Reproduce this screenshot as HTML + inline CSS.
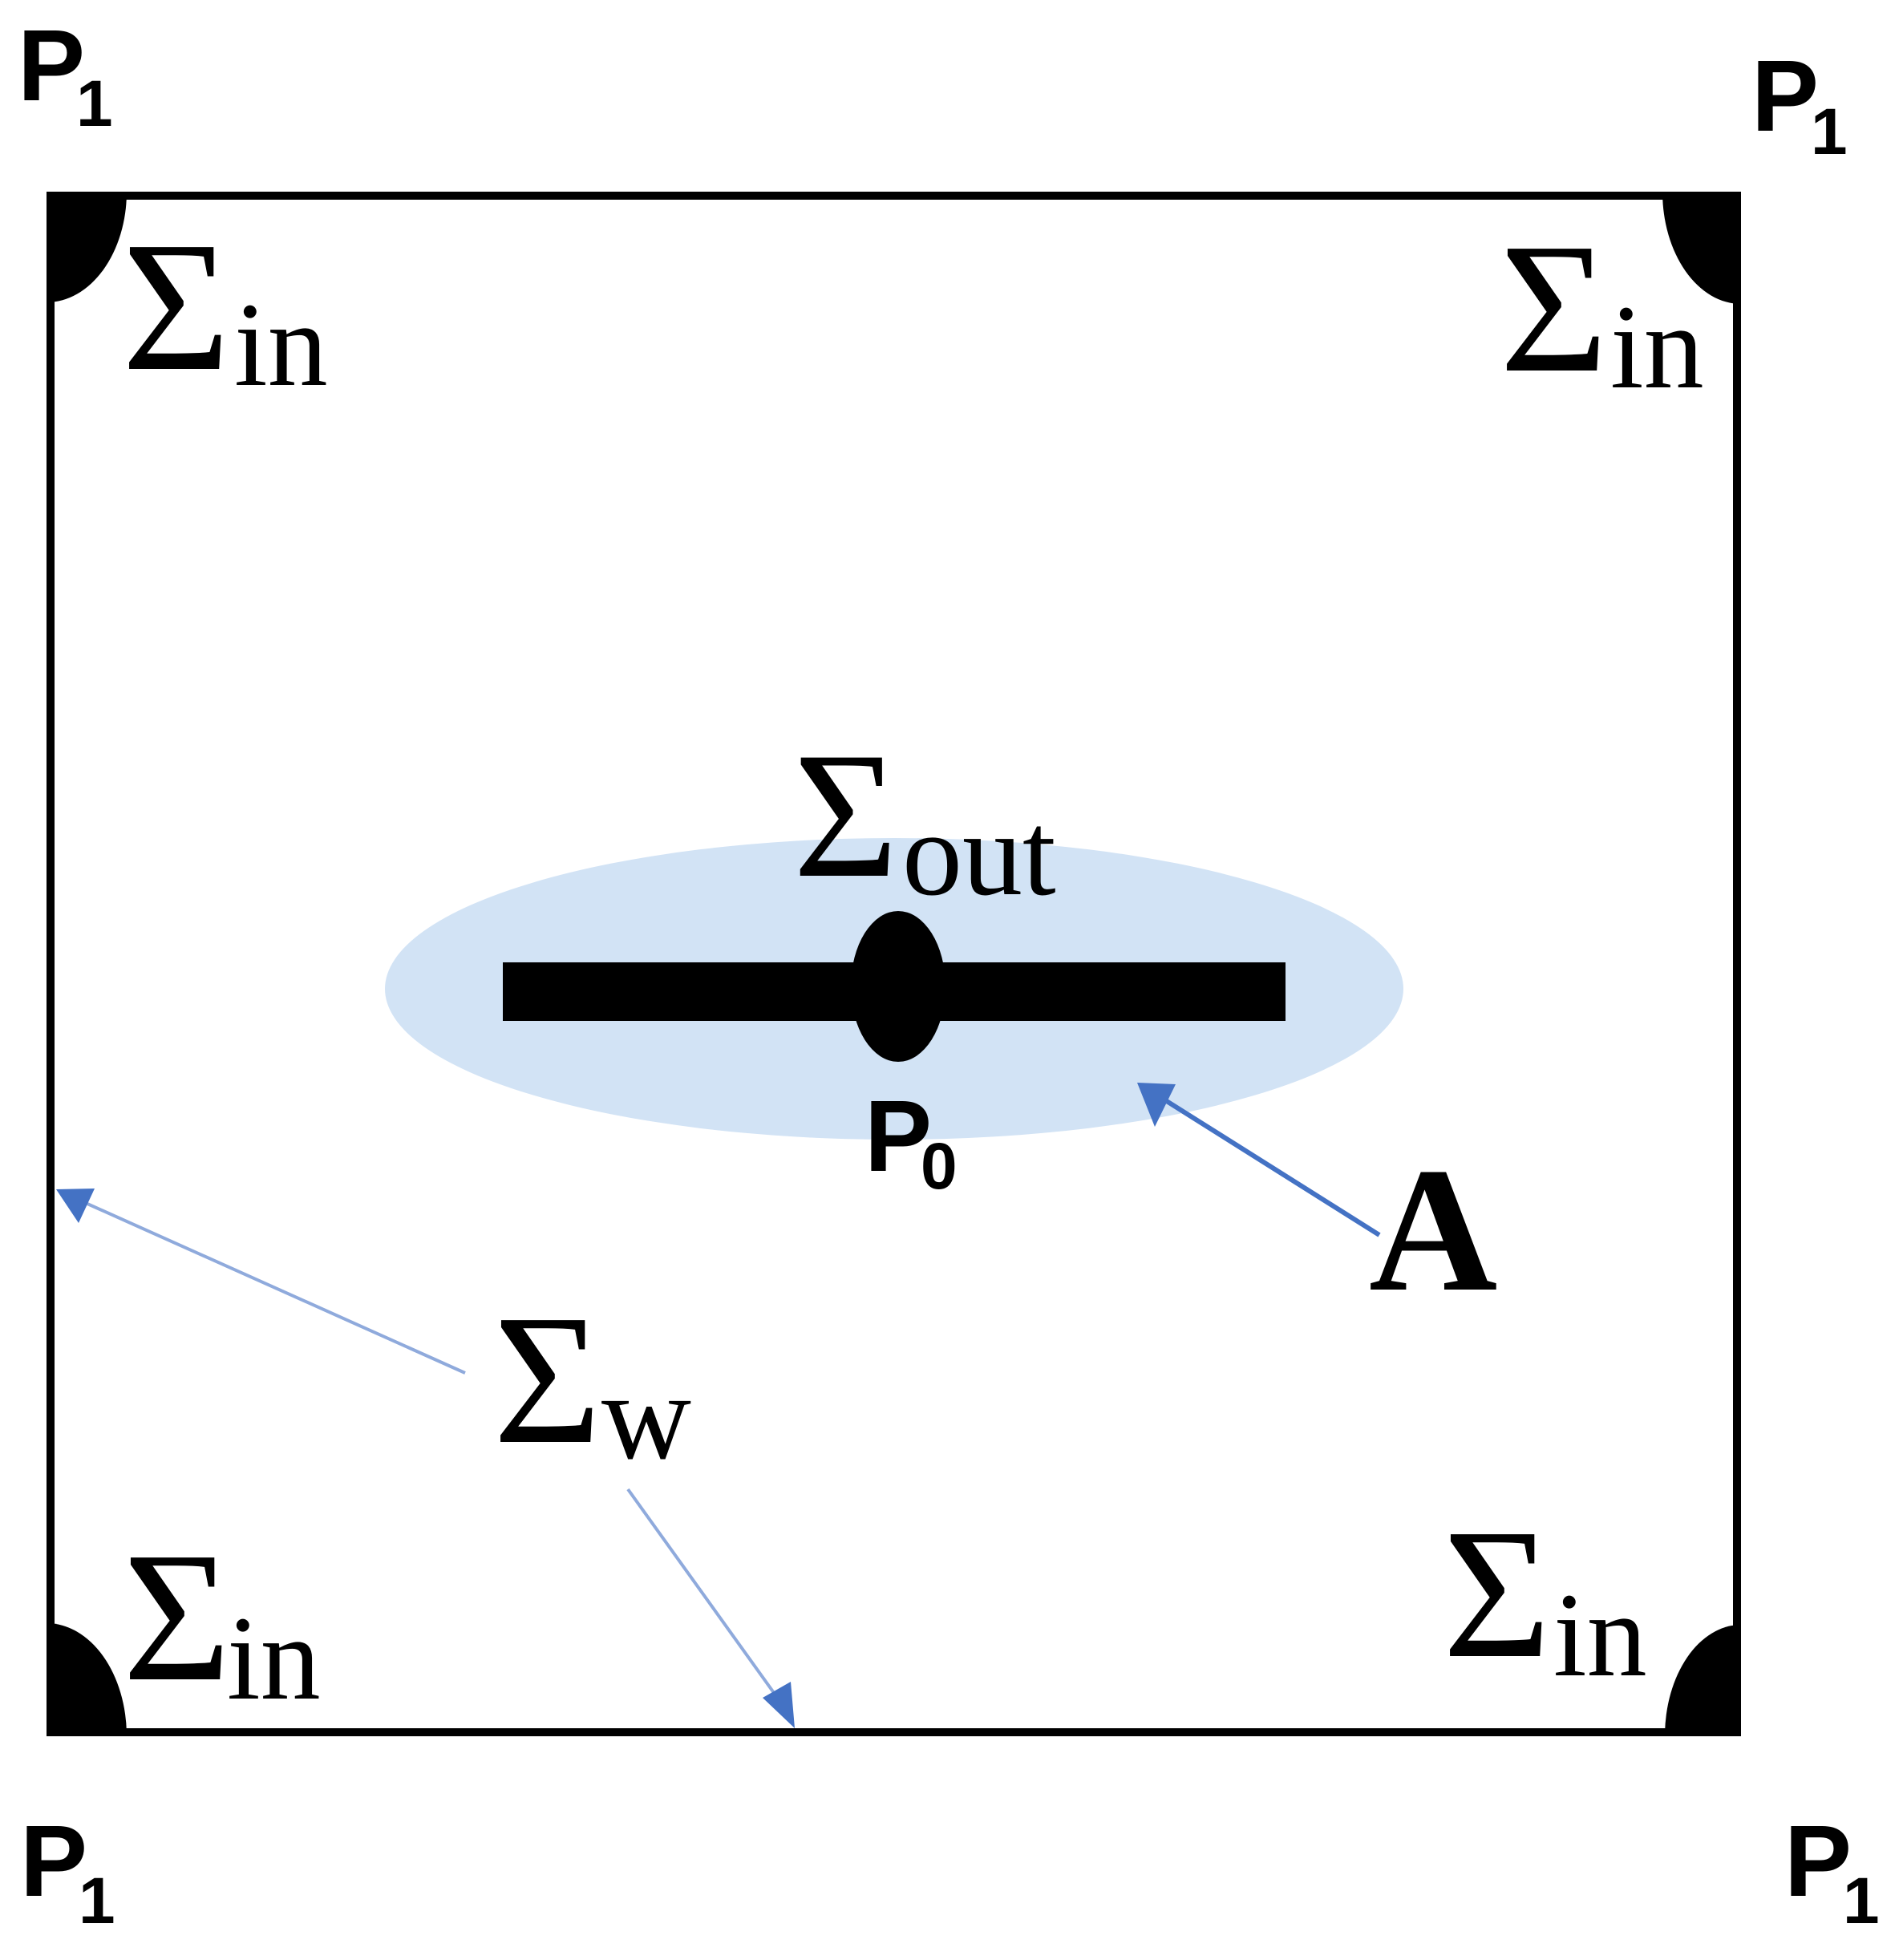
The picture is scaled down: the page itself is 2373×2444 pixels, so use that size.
<!DOCTYPE html>
<html><head><meta charset="utf-8"><style>
html,body{margin:0;padding:0;background:#fff;}
svg{display:block;}
.s{font-family:"Liberation Serif",serif;}
.p{font-family:"Liberation Sans",sans-serif;font-weight:bold;}
</style></head><body>
<svg width="2373" height="2444" viewBox="0 0 2373 2444" xmlns="http://www.w3.org/2000/svg">
<!-- ellipse -->
<ellipse cx="1115" cy="1233" rx="635" ry="188" fill="#D2E3F5"/>
<!-- rectangle -->
<rect x="63" y="244" width="2103" height="1916" fill="none" stroke="#000" stroke-width="10"/>
<!-- corner blobs -->
<path d="M58 239 L158 239 A100 138 0 0 1 58 377 Z" fill="#000"/>
<path d="M2171 239 L2073 239 A98 140 0 0 0 2171 379 Z" fill="#000"/>
<path d="M58 2165 L58 2024 A100 141 0 0 1 158 2165 Z" fill="#000"/>
<path d="M2171 2165 L2171 2026 A95 139 0 0 0 2076 2165 Z" fill="#000"/>
<!-- bar and dot -->
<rect x="627" y="1200" width="976" height="73" fill="#000"/>
<ellipse cx="1120" cy="1230" rx="59" ry="94" fill="#000"/>
<!-- arrows -->
<line x1="1720" y1="1540" x2="1450" y2="1370" stroke="#4472C4" stroke-width="6"/>
<polygon points="1418,1350 1466,1352 1440,1405" fill="#4472C4"/>
<line x1="580" y1="1712" x2="100" y2="1497" stroke="#8FAADC" stroke-width="4"/>
<polygon points="70,1483 118,1482 98,1525" fill="#4472C4"/>
<line x1="783" y1="1857" x2="973" y2="2122" stroke="#8FAADC" stroke-width="4"/>
<polygon points="991,2155 951,2117 986,2097" fill="#4472C4"/>
<!-- Sigma labels -->
<text class="s" x="152" y="460" font-size="232">Σ</text><text class="s" x="292" y="480" font-size="150">in</text>
<text class="s" x="1870" y="462" font-size="232">Σ</text><text class="s" x="2008" y="483" font-size="150">in</text>
<text class="s" x="153" y="2094" font-size="232">Σ</text><text class="s" x="283" y="2118" font-size="150">in</text>
<text class="s" x="1799" y="2065" font-size="232">Σ</text><text class="s" x="1937" y="2089" font-size="150">in</text>
<text class="s" x="989" y="1092" font-size="225">Σ</text><text class="s" x="1125" y="1115" font-size="150">out</text>
<text class="s" x="615" y="1798" font-size="232">Σ</text><text class="s" x="750" y="1818" font-size="155">w</text>
<text class="s" x="1707" y="1608" font-size="222" font-weight="bold">A</text>
<!-- P labels -->
<text class="p" x="22" y="125" font-size="126">P</text><text class="p" x="95" y="157" font-size="82">1</text>
<text class="p" x="2184" y="163" font-size="126">P</text><text class="p" x="2258" y="192" font-size="82">1</text>
<text class="p" x="25" y="2364" font-size="126">P</text><text class="p" x="98" y="2398" font-size="82">1</text>
<text class="p" x="2225" y="2364" font-size="126">P</text><text class="p" x="2298" y="2398" font-size="82">1</text>
<text class="p" x="1078" y="1460" font-size="126">P</text><text class="p" x="1148" y="1482" font-size="82">0</text>
</svg>
</body></html>
